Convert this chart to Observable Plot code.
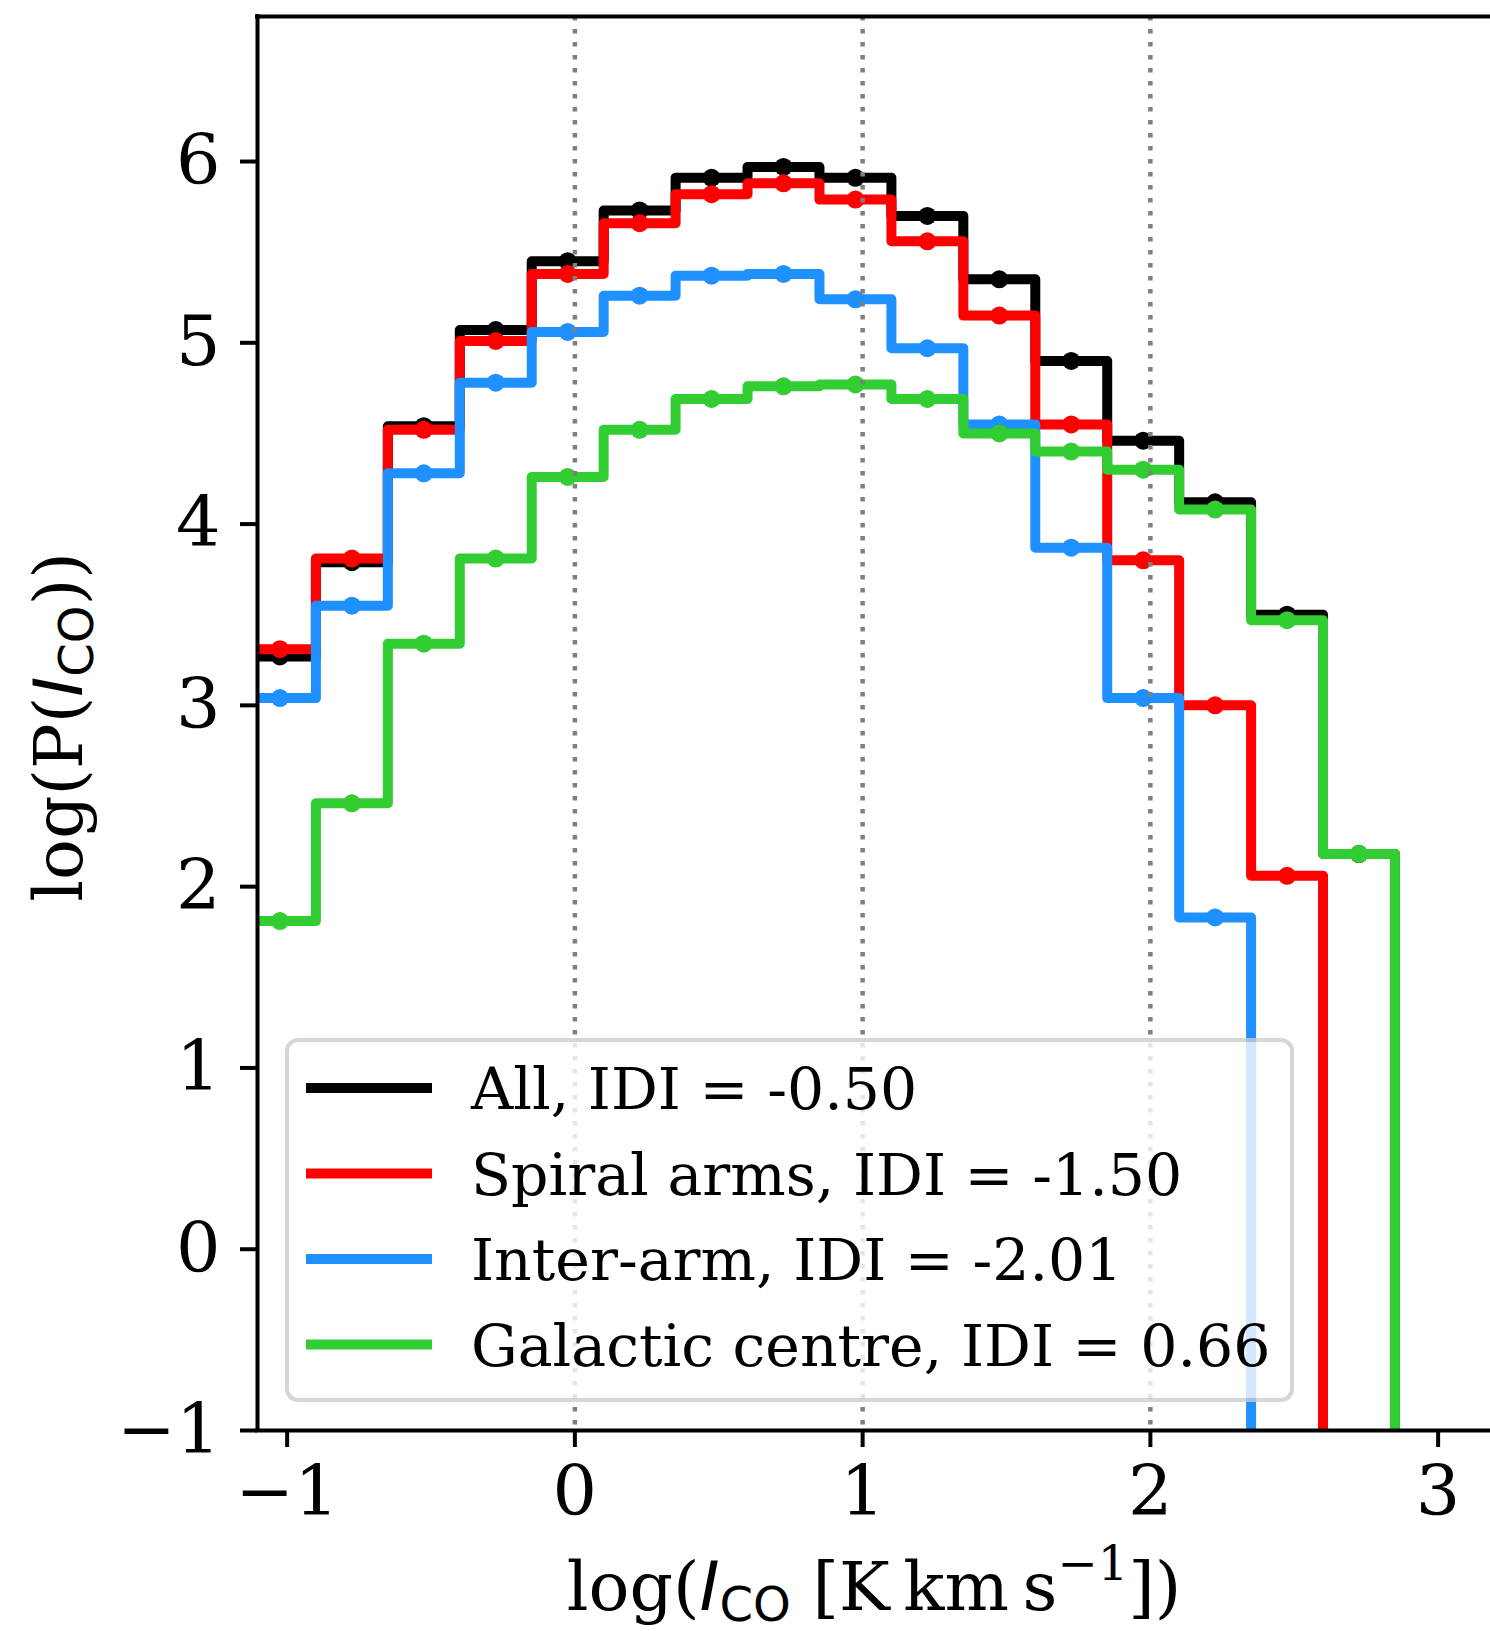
<!DOCTYPE html>
<html>
<head>
<meta charset="utf-8">
<script src="https://cdn.jsdelivr.net/npm/d3@7"></script>
<script src="https://cdn.jsdelivr.net/npm/@observablehq/plot@0.6"></script>
<style>
  html, body { margin: 0; padding: 0; background: #fff; }
</style>
</head>
<body>
<div id="chart"></div>
<script>
// Histogram bin edges in log(I_CO) (bin width 0.25 dex)
const binEdges = [-1.15, -0.9, -0.65, -0.4, -0.15, 0.1, 0.35, 0.6, 0.85, 1.1, 1.35, 1.6, 1.85, 2.1, 2.35, 2.6, 2.85];

// log(P(I_CO)) per bin; bins past the end of each list are empty
const allValues      = [3.27, 3.79, 4.54, 5.07, 5.45, 5.73, 5.91, 5.97, 5.91, 5.70, 5.35, 4.90, 4.46, 4.12, 3.50, 2.18];
const spiralValues   = [3.31, 3.81, 4.52, 5.01, 5.38, 5.66, 5.82, 5.88, 5.79, 5.56, 5.15, 4.55, 3.80, 3.00, 2.06];
const interArmValues = [3.04, 3.55, 4.28, 4.78, 5.06, 5.26, 5.37, 5.38, 5.24, 4.97, 4.55, 3.87, 3.04, 1.83];
const centreValues   = [1.81, 2.46, 3.34, 3.81, 4.26, 4.52, 4.69, 4.76, 4.77, 4.69, 4.50, 4.40, 4.30, 4.08, 3.47, 2.18];

const seriesNames  = ["All", "Spiral arms", "Inter-arm", "Galactic centre"];
const seriesIDI    = [-0.50, -1.50, -2.01, 0.66];
const seriesColors = ["#000000", "#ff0000", "#1e90ff", "#32cd32"];
const seriesValues = [allValues, spiralValues, interArmValues, centreValues];

const xTicks = [-1, 0, 1, 2, 3];
const yTicks = [-1, 0, 1, 2, 3, 4, 5, 6];
const guideLines = [0, 1, 2];
const xDomain = [-1.103, 3.182];
const yDomain = [-1, 6.8];

const tickFmt = d3.format("d");

const series = seriesNames.map((name, i) => {
  const values = seriesValues[i];
  const n = values.length;
  // step outline: each bin drawn from its left edge; after the last filled bin
  // the histogram falls to the axis floor (empty bins)
  const outline = values.map((v, k) => ({x: binEdges[k], y: v}));
  outline.push({x: binEdges[n], y: values[n - 1]});
  outline.push({x: binEdges[n], y: yDomain[0]});
  const centres = values.map((v, k) => ({x: (binEdges[k] + binEdges[k + 1]) / 2, y: v}));
  return {name, label: `${name}, IDI = ${seriesIDI[i].toFixed(2)}`, color: seriesColors[i], outline, centres};
});

const seriesMarks = series.flatMap(s => [
  Plot.line(s.outline, {x: "x", y: "y", curve: "step-after", stroke: s.color, strokeWidth: 10,
    strokeLinejoin: "round", clip: true}),
  Plot.dot(s.centres, {x: "x", y: "y", r: 9, fill: s.color, stroke: "none", clip: true})
]);

const svg = Plot.plot({
  width: 1490,
  height: 1631,
  marginLeft: 257,
  marginRight: 0,
  marginTop: 16,
  marginBottom: 201,
  style: {fontFamily: "'DejaVu Serif', serif", background: "#fff", color: "#000"},
  x: {domain: xDomain},
  y: {domain: yDomain},
  marks: [
    ...seriesMarks,
    Plot.ruleX(guideLines, {stroke: "#7f7f7f", strokeWidth: 4.5, strokeDasharray: "4.5 8.5"}),
    Plot.ruleX([xDomain[0]], {stroke: "#000", strokeWidth: 4, strokeLinecap: "square"}),
    Plot.ruleY([yDomain[0], yDomain[1]], {stroke: "#000", strokeWidth: 4, strokeLinecap: "square"}),
    Plot.axisX({ticks: xTicks, tickFormat: tickFmt, tickSize: 17, tickPadding: 18, strokeWidth: 4,
      fontSize: 70, label: null}),
    Plot.axisY({ticks: yTicks, tickFormat: tickFmt, tickSize: 17, tickPadding: 20, strokeWidth: 4,
      fontSize: 70, label: null})
  ]
});

document.getElementById("chart").appendChild(svg);

const root = d3.select(svg);

// Axis titles with sub/superscripts
const xt = root.append("text")
  .attr("x", 874).attr("y", 1610)
  .attr("text-anchor", "middle")
  .attr("font-family", "'DejaVu Serif', serif")
  .attr("font-size", 68)
  .attr("fill", "#000");
xt.append("tspan").text("log(");
xt.append("tspan").attr("font-family", "'DejaVu Sans', sans-serif").attr("font-style", "italic").text("I");
xt.append("tspan").attr("font-family", "'DejaVu Sans', sans-serif").attr("font-size", 48).attr("dy", 11).text("CO");
xt.append("tspan").attr("dy", -11).text(" [K\u2009km\u2009s");
xt.append("tspan").attr("font-size", 48).attr("dy", -30).text("\u22121");
xt.append("tspan").attr("dy", 30).text("])");

const yt = root.append("text")
  .attr("transform", "translate(82,727) rotate(-90)")
  .attr("text-anchor", "middle")
  .attr("font-family", "'DejaVu Serif', serif")
  .attr("font-size", 68)
  .attr("fill", "#000");
yt.append("tspan").text("log(P(");
yt.append("tspan").attr("font-family", "'DejaVu Sans', sans-serif").attr("font-style", "italic").text("I");
yt.append("tspan").attr("font-family", "'DejaVu Sans', sans-serif").attr("font-size", 48).attr("dy", 11).text("CO");
yt.append("tspan").attr("dy", -11).text("))");

// Legend box
const legend = root.append("g");
legend.append("rect")
  .attr("x", 287).attr("y", 1040).attr("width", 1005).attr("height", 360)
  .attr("rx", 11).attr("ry", 11)
  .attr("fill", "#fff").attr("stroke", "#cccccc").attr("stroke-width", 4)
  .attr("opacity", 0.8);
const rowY = [1088, 1173.5, 1259, 1344.5];
series.forEach((s, i) => {
  legend.append("line")
    .attr("x1", 306).attr("x2", 432)
    .attr("y1", rowY[i]).attr("y2", rowY[i])
    .attr("stroke", s.color).attr("stroke-width", 10);
  legend.append("text")
    .attr("x", 471).attr("y", rowY[i] + 21)
    .attr("text-anchor", "start")
    .attr("font-family", "'DejaVu Serif', serif")
    .attr("font-size", 58.5)
    .attr("fill", "#000")
    .text(s.label);
});
</script>
</body>
</html>
